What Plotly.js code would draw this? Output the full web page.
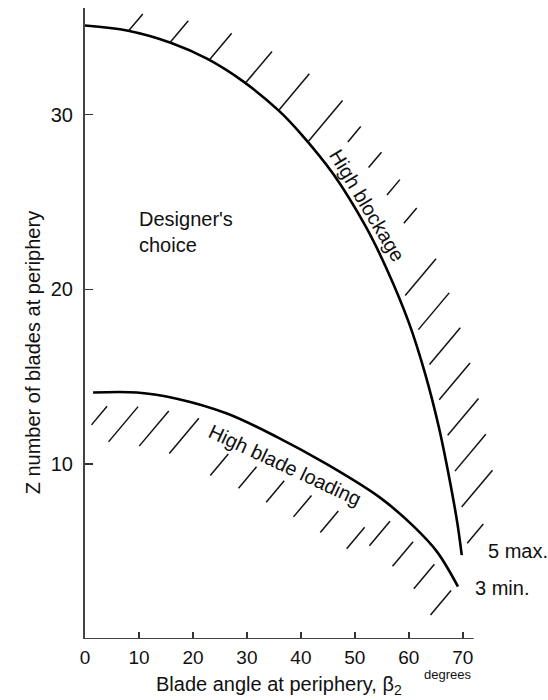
<!DOCTYPE html>
<html><head><meta charset="utf-8">
<script src="https://cdn.plot.ly/plotly-3.0.1.min.js"></script>
<style>html,body{margin:0;padding:0;background:#fff}#chart{width:548px;height:700px}</style>
</head><body><div id="chart"></div>
<script>
// ---- data ----
const upperAngle = [0, 8, 16, 22.6, 29.3, 36, 40, 46, 52, 56, 60, 63, 65.5, 67.5, 69, 69.8];
const upperZ     = [35.1, 34.8, 34.1, 33.2, 31.9, 30.2, 28.9, 26.6, 23.6, 21.1, 18.1, 15.2, 12.2, 9.2, 6.6, 4.8];
const lowerAngle = [1.5, 9.6, 17.0, 26.3, 35.6, 44.8, 54.6, 60.7, 65.2, 69.1];
const lowerZ     = [14.1, 14.1, 13.75, 12.9, 11.55, 10.0, 8.1, 6.5, 5.0, 3.0];
const xTicks = [0, 10, 20, 30, 40, 50, 60, 70];
const yTicks = [10, 20, 30];
const labels = {
  choice: "Designer's<br>choice",
  blockage: "High blockage",
  loading: "High blade loading",
  max: "5 max.",
  min: "3 min.",
  xTitle: "Blade angle at periphery, β<sub>2</sub>",
  xUnit: "degrees",
  yTitle: "Z number of blades at periphery"
};

// ---- layout geometry ----
const W = 548, H = 700;
const M = {l: 85, r: 42, t: 8, b: 61};
const XR = [0, 78], YR = [0, 36.1];
const pw = W - M.l - M.r, ph = H - M.t - M.b;
const toPx = x => M.l + (x - XR[0]) / (XR[1] - XR[0]) * pw;
const toPy = z => M.t + (YR[1] - z) / (YR[1] - YR[0]) * ph;
const fromPx = p => XR[0] + (p - M.l) / pw * (XR[1] - XR[0]);
const fromPy = p => YR[1] - (p - M.t) / ph * (YR[1] - YR[0]);

// dense pixel polyline along a curve (Catmull-Rom) for hatch placement
function densify(xs, zs) {
  const P = xs.map((x, i) => [toPx(x), toPy(zs[i])]);
  const out = [];
  for (let i = 0; i < P.length - 1; i++) {
    const p0 = P[Math.max(0, i - 1)], p1 = P[i], p2 = P[i + 1], p3 = P[Math.min(P.length - 1, i + 2)];
    for (let k = 0; k < 20; k++) {
      const t = k / 20, t2 = t * t, t3 = t2 * t;
      const f = (a, b, c, d) => 0.5 * ((2 * b) + (-a + c) * t + (2 * a - 5 * b + 4 * c - d) * t2 + (-a + 3 * b - 3 * c + d) * t3);
      out.push([f(p0[0], p1[0], p2[0], p3[0]), f(p0[1], p1[1], p2[1], p3[1])]);
    }
  }
  out.push(P[P.length - 1]);
  const s = [0];
  for (let i = 1; i < out.length; i++) s.push(s[i - 1] + Math.hypot(out[i][0] - out[i - 1][0], out[i][1] - out[i - 1][1]));
  return {pts: out, s: s, total: s[s.length - 1]};
}
function at(c, sv) {
  for (let i = 1; i < c.s.length; i++) {
    if (c.s[i] >= sv) {
      const f = (sv - c.s[i - 1]) / (c.s[i] - c.s[i - 1] || 1);
      return [c.pts[i - 1][0] + f * (c.pts[i][0] - c.pts[i - 1][0]), c.pts[i - 1][1] + f * (c.pts[i][1] - c.pts[i - 1][1])];
    }
  }
  return c.pts[c.pts.length - 1];
}
const ang = 50 * Math.PI / 180, cx = Math.cos(ang), sy = Math.sin(ang);

const hx = [], hy = [];
function seg(a, b) {
  hx.push(fromPx(a[0]), fromPx(b[0]), null);
  hy.push(fromPy(a[1]), fromPy(b[1]), null);
}
function upHatch(p, off, L) {
  const a = [p[0] + off, p[1]];
  seg(a, [a[0] + L * cx, a[1] - L * sy]);
}
// upper curve hatching (outside, up-right)
const cu = densify(upperAngle, upperZ);
for (let k = 0; k < 6; k++) { const sv = 44 + 43 * k; upHatch(at(cu, sv), 0, Math.min(54, 22 + 0.15 * (sv - 44))); }
for (let k = 0; k < 4; k++) { upHatch(at(cu, 259 + 33 * k), 40, 20); }
const sC0 = 438, sC1 = cu.total - 12, nC = 8;
for (let k = 0; k < nC; k++) {
  const sv = sC0 + (sC1 - sC0) * k / (nC - 1);
  upHatch(at(cu, sv), 7, k === nC - 1 ? 25 : 48);
}
// lower curve hatching (below, detached)
const cl = densify(lowerAngle, lowerZ);
const minX = toPx(1.2);
for (let sv = 14; sv < cl.total - 5; sv += 31) {
  const p = at(cl, sv), xd = fromPx(p[0]);
  let gap, L;
  if (xd < 22.5) { gap = 14; L = 46; }
  else if (xd < 52.5) { gap = 40; L = 28; }
  else { gap = 16; L = 32; }
  const top = [p[0], p[1] + gap];
  let bot = [top[0] - L * cx, top[1] + L * sy];
  if (bot[0] < minX) { const t = (top[0] - minX) / cx; bot = [top[0] - t * cx, top[1] + t * sy]; }
  seg(top, bot);
}

const font = {family: "Liberation Sans, Arial, Helvetica, sans-serif", color: "#111"};
const F = s => Object.assign({}, font, {size: s});

const traces = [
  {x: upperAngle, y: upperZ, mode: "lines", line: {color: "#000", width: 2.6, shape: "spline", smoothing: 1}, hoverinfo: "skip"},
  {x: lowerAngle, y: lowerZ, mode: "lines", line: {color: "#000", width: 2.6, shape: "spline", smoothing: 1}, hoverinfo: "skip"},
  {x: hx, y: hy, mode: "lines", line: {color: "#111", width: 1.5}, connectgaps: false, hoverinfo: "skip"}
];

const layout = {
  width: W, height: H, margin: M, showlegend: false,
  paper_bgcolor: "#fff", plot_bgcolor: "#fff", font: F(19),
  xaxis: {range: XR, tickvals: xTicks, ticktext: xTicks.map(String), ticks: "inside", ticklen: 7, tickwidth: 1.5, tickcolor: "#333",
          showline: false, zeroline: false, showgrid: false, tickfont: F(19), ticklabelstandoff: 5, fixedrange: true},
  yaxis: {range: YR, tickvals: yTicks, ticktext: yTicks.map(String), ticks: "inside", ticklen: 8, tickwidth: 1.5, tickcolor: "#333",
          showline: true, linecolor: "#444", linewidth: 2, zeroline: false, showgrid: false, tickfont: F(20), ticklabelstandoff: 6, fixedrange: true},
  shapes: [{type: "line", xref: "x", yref: "y", x0: 0, x1: 72, y0: 0, y1: 0, line: {color: "#444", width: 2}}],
  annotations: [
    {text: labels.choice, x: 9.6, y: 23.3, xanchor: "left", yanchor: "middle", align: "left", showarrow: false, font: F(20)},
    {text: labels.blockage, x: 52.4, y: 24.8, textangle: 59, showarrow: false, font: F(20)},
    {text: labels.loading, x: 37.0, y: 9.94, textangle: 25, showarrow: false, font: F(20)},
    {text: labels.max, x: 74.3, y: 5.03, xanchor: "left", showarrow: false, font: F(20)},
    {text: labels.min, x: 71.9, y: 2.9, xanchor: "left", showarrow: false, font: F(20)},
    {text: labels.xTitle, x: 35.9, y: 0, yshift: -46, yanchor: "middle", showarrow: false, font: F(20)},
    {text: labels.xUnit, x: 62.5, y: 0, yshift: -35, xanchor: "left", yanchor: "middle", showarrow: false, font: F(13)},
    {text: labels.yTitle, x: 0, xshift: -52, y: 16.4, textangle: -90, showarrow: false, font: F(20)}
  ]
};
Plotly.newPlot("chart", traces, layout, {displayModeBar: false, staticPlot: true});
</script></body></html>
